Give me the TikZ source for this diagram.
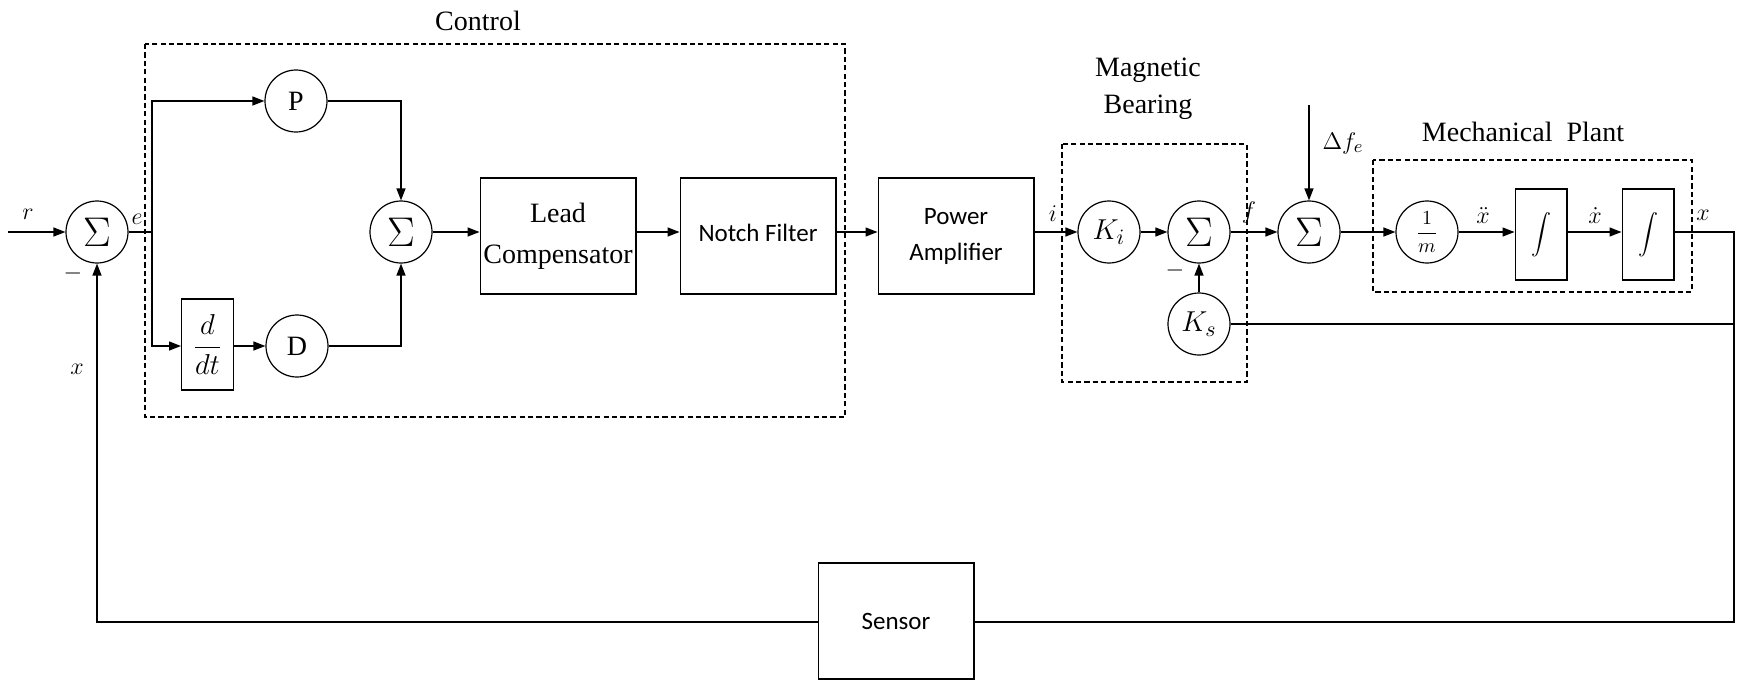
\documentclass[tikz,border=0pt]{standalone}
\usepackage{fontspec}
\setmainfont{Liberation Serif}
\newfontfamily\timesfont{Liberation Serif}
\newfontfamily\calibrifont{Carlito}
\usetikzlibrary{arrows.meta}
\begin{document}
\begin{tikzpicture}[x=0.5pt,y=-0.5pt,
  line width=0.7pt,
  >={Triangle[length=6pt,width=4.5pt]},
  blk/.style={circle,draw,line width=0.6pt,minimum size=31pt,inner sep=0pt},
  sumfont/.style={font=\fontsize{21}{22}\selectfont},
  boxx/.style={draw,line width=0.7pt,inner sep=0pt,align=center},
  bigbox/.style={boxx,minimum width=77.8pt,minimum height=58pt},
  smallbox/.style={boxx,minimum width=25.8pt,minimum height=45.5pt},
  serif/.style={font=\timesfont\fontsize{14}{16.5}\selectfont},
  sans/.style={font=\calibrifont\fontsize{12.5}{15}\selectfont},
  lbl/.style={font=\fontsize{13}{15}\selectfont,inner sep=0pt},
  grp/.style={draw,dash pattern=on 2.6pt off 1.6pt,line width=0.6pt}
]
\useasboundingbox (0,0) rectangle (1737,681);

% groups
\draw[grp] (145,44) rectangle (845,417);
\draw[grp] (1062,144) rectangle (1247,382);
\draw[grp] (1373,160) rectangle (1692,292);
\node[serif] (tctrl) at (478,21) {Control};
\node[serif,align=center] (tmag) at (1148,89) {Magnetic\\[2pt]Bearing};
\node[serif] (tmech) at (1523,132) {Mechanical\ \ Plant};

% nodes
\coordinate (rin) at (8,232);
\node[blk,sumfont] (s1) at (97,232) {$\Sigma$};
\coordinate (j) at (152,232);
\node[blk,font=\timesfont\fontsize{14}{15}\selectfont] (P) at (296,101) {P};
\node[smallbox,font=\fontsize{14}{16}\selectfont] (ddt) at (207.5,344.5) {$\displaystyle\frac{d}{dt}$};
\node[blk,font=\timesfont\fontsize{14}{15}\selectfont] (D) at (297,346) {D};
\node[blk,sumfont] (s2) at (401,232) {$\Sigma$};
\node[bigbox,serif] (lead) at (558,236) {Lead\\[4pt]Compensator};
\node[bigbox,sans] (notch) at (758,236) {\raisebox{3pt}{Notch Filter}};
\node[bigbox,sans] (pow) at (956,236) {Power\\[3pt]Amplifier};
\node[blk,font=\fontsize{15}{17}\selectfont] (Ki) at (1109,232) {$K_i$};
\node[blk,sumfont] (s3) at (1199,232) {$\Sigma$};
\node[blk,font=\fontsize{15}{17}\selectfont] (Ks) at (1199,324) {$K_s$};
\node[blk,sumfont] (s4) at (1309,232) {$\Sigma$};
\coordinate (dfin) at (1309,105);
\node[blk,font=\fontsize{10}{12}\selectfont] (im) at (1427,232) {$\displaystyle\frac{1}{m}$};
\node[smallbox,font=\fontsize{17}{18}\selectfont] (i1) at (1541,234.5) {$\displaystyle\int$};
\node[smallbox,font=\fontsize{17}{18}\selectfont] (i2) at (1648,234.5) {$\displaystyle\int$};
\coordinate (c1) at (1734,232);
\coordinate (c2) at (1734,622);
\coordinate (c3) at (1734,324);
\coordinate (c4) at (97,622);
\node[bigbox,sans] (sen) at (896,621) {Sensor};

% connectors
\draw[->] (rin) -- (s1.west);
\draw (s1.east) -- (j);
\draw[->] (j) |- (P.west);
\draw[->] (j) |- (ddt.west |- D);
\draw[->] (ddt.east |- D) -- (D.west);
\draw[->] (P.east) -| (s2.north);
\draw[->] (D.east) -| (s2.south);
\draw[->] (s2.east) -- (s2.east -| lead.west);
\draw[->] (lead.east |- s2) -- (notch.west |- s2);
\draw[->] (notch.east |- s2) -- (pow.west |- s2);
\draw[->] (pow.east |- s2) -- (Ki.west);
\draw[->] (Ki.east) -- (s3.west);
\draw[->] (Ks.north) -- (s3.south);
\draw[->] (s3.east) -- (s4.west);
\draw[->] (dfin) -- (s4.north);
\draw[->] (s4.east) -- (im.west);
\draw[->] (im.east) -- (i1.west |- im);
\draw[->] (i1.east |- im) -- (i2.west |- im);
\draw (i2.east |- im) -- (c1) -- (c2) -- (sen.east |- c2);
\draw (Ks.east) -- (c3);
\draw[->] (sen.west |- c2) -- (c4) -- (s1.south);

% labels
\node[lbl] (lr) at (28,214) {$r$};
\node[lbl] (le) at (137,219) {$e$};
\node[lbl] (lm1) at (73,273) {$-$};
\node[lbl] (lx1) at (77,369) {$x$};
\node[lbl] (li) at (1053,214) {$i$};
\node[lbl] (lf) at (1249,212) {$f$};
\node[lbl] (lm2) at (1175,270) {$-$};
\node[lbl] (ldf) at (1343,143) {$\Delta f_e$};
\node[lbl] (lxdd) at (1483,216) {$\ddot{x}$};
\node[lbl] (lxd) at (1595,216) {$\dot{x}$};
\node[lbl] (lx2) at (1703,215) {$x$};
\end{tikzpicture}
\end{document}
